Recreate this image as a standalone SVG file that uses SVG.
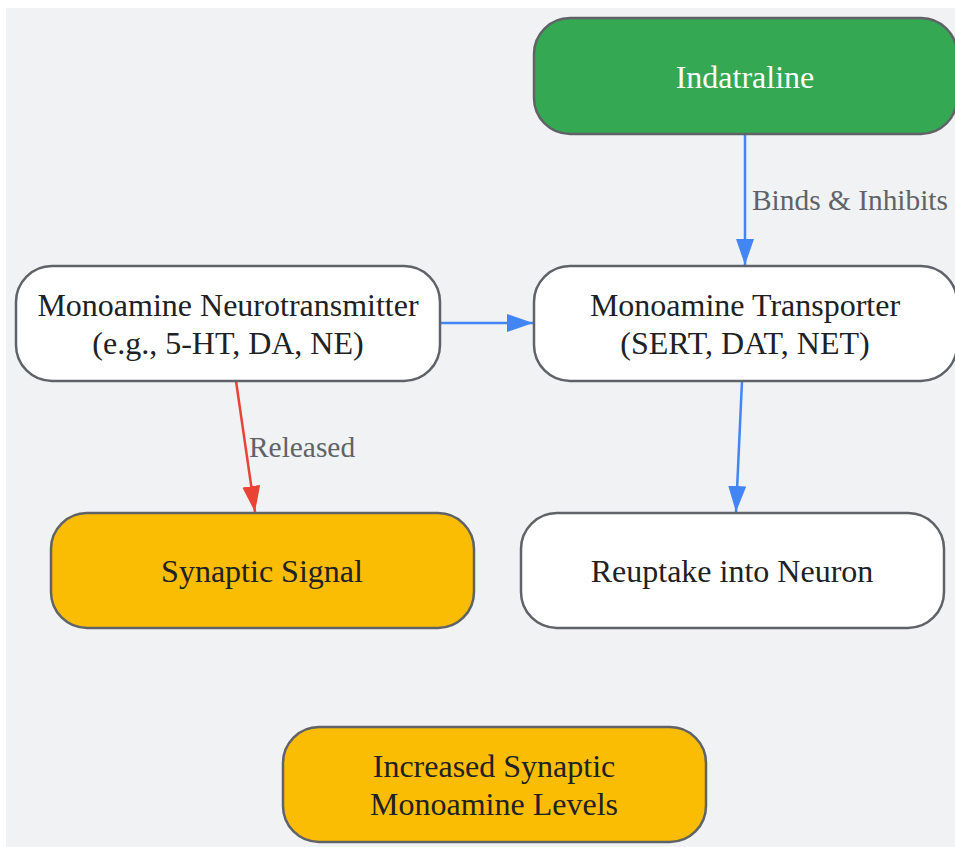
<svg xmlns="http://www.w3.org/2000/svg" width="955" height="847" viewBox="0 0 955 847">
<defs>
<style>
.node rect{stroke:#5f6368;stroke-width:2.5}
.t{font-family:"Liberation Serif","Times New Roman",serif;font-size:32px;fill:#202124;text-anchor:middle}
.lbl{font-family:"Liberation Serif","Times New Roman",serif;font-size:29.4px;fill:#5f6368}
.e{fill:none;stroke-width:2.5}
.blue{stroke:#4285f4}
.red{stroke:#ea4335}
</style>
<marker id="ab" viewBox="0 0 26 18" refX="26" refY="9" markerWidth="26" markerHeight="18" markerUnits="userSpaceOnUse" orient="auto">
<path d="M0,0 L26,9 L0,18 Z" fill="#4285f4"/>
</marker>
<marker id="ar" viewBox="0 0 26 18" refX="26" refY="9" markerWidth="26" markerHeight="18" markerUnits="userSpaceOnUse" orient="auto">
<path d="M0,0 L26,9 L0,18 Z" fill="#ea4335"/>
</marker>
</defs>
<rect x="6" y="8" width="949" height="839" fill="#f1f2f4"/>
<g id="edges">
<path class="e blue" d="M745,134 L745,265" marker-end="url(#ab)"/>
<path class="e blue" d="M440,323 L533,323" marker-end="url(#ab)"/>
<path class="e red" d="M236,381 L255,512" marker-end="url(#ar)"/>
<path class="e blue" d="M742,381 L736,512" marker-end="url(#ab)"/>
<text class="lbl" x="752" y="210">Binds &amp; Inhibits</text>
<text class="lbl" x="249" y="457">Released</text>
</g>
<g id="indatraline" class="node">
<rect x="534" y="18" width="423" height="116" rx="36" fill="#34a853"/>
<text class="t" x="745" y="88" style="fill:#ffffff">Indatraline</text>
</g>
<g id="neurotransmitter" class="node">
<rect x="16" y="266" width="424" height="115" rx="36" fill="#ffffff"/>
<text class="t" x="228" y="316">Monoamine Neurotransmitter</text>
<text class="t" x="228" y="354">(e.g., 5-HT, DA, NE)</text>
</g>
<g id="transporter" class="node">
<rect x="534" y="266" width="423" height="115" rx="36" fill="#ffffff"/>
<text class="t" x="745" y="316">Monoamine Transporter</text>
<text class="t" x="745" y="354">(SERT, DAT, NET)</text>
</g>
<g id="synaptic" class="node">
<rect x="51" y="513" width="423" height="115" rx="36" fill="#fbbc04"/>
<text class="t" x="262" y="582">Synaptic Signal</text>
</g>
<g id="reuptake" class="node">
<rect x="521" y="513" width="423" height="115" rx="36" fill="#ffffff"/>
<text class="t" x="732" y="582">Reuptake into Neuron</text>
</g>
<g id="increased" class="node">
<rect x="283" y="727" width="423" height="115" rx="36" fill="#fbbc04"/>
<text class="t" x="494" y="777">Increased Synaptic</text>
<text class="t" x="494" y="815">Monoamine Levels</text>
</g>
</svg>
